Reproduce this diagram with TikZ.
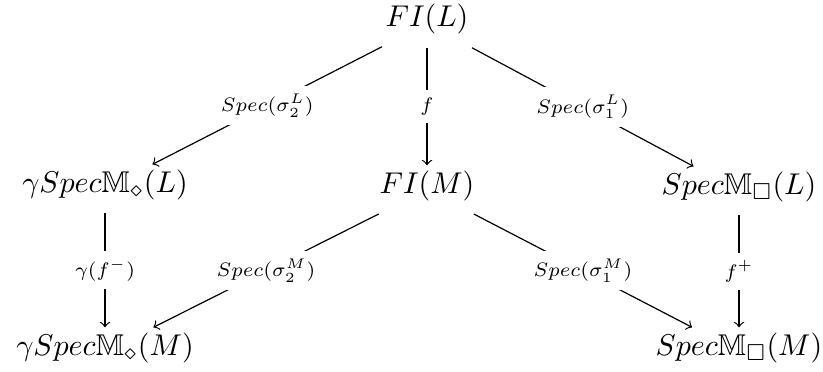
\documentclass[tikz,border=0pt]{standalone}
\usepackage{amssymb}
\begin{document}
\begin{tikzpicture}[x=0.333pt,y=-0.333pt,
  obj/.style={anchor=base, inner xsep=1pt, inner ysep=0.5pt, text height=8.5pt, text depth=6.3pt},
  arr/.style={->},
  lbl/.style={fill=white, inner xsep=1.8pt, inner ysep=2.8pt, scale=0.93}]
\useasboundingbox (0,0) rectangle (823,372);
\node[obj] (FIL) at (427,27) {$FI(L)$};
\node[obj] (GL)  at (105,192) {$\gamma Spec\mathbb{M}_{\diamond}(L)$};
\node[obj] (FIM) at (427,193) {$FI(M)$};
\node[obj] (SL)  at (739,194) {$Spec\mathbb{M}_{\square}(L)$};
\node[obj] (GM)  at (105,355) {$\gamma Spec\mathbb{M}_{\diamond}(M)$};
\node[obj] (SM)  at (739,355) {$Spec\mathbb{M}_{\square}(M)$};
\draw[arr] (FIL) -- node[lbl,midway] {$\scriptstyle Spec(\sigma_2^L)$} (GL);
\draw[arr] (FIL) -- node[lbl,midway] {$\scriptstyle f$} (FIM);
\draw[arr] (FIL) -- node[lbl,midway] {$\scriptstyle Spec(\sigma_1^L)$} (SL);
\draw[arr] (GL) -- node[lbl,midway] {$\scriptstyle \gamma(f^-)$} (GM);
\draw[arr] (FIM) -- node[lbl,midway] {$\scriptstyle Spec(\sigma_2^M)$} (GM);
\draw[arr] (FIM) -- node[lbl,midway] {$\scriptstyle Spec(\sigma_1^M)$} (SM);
\draw[arr] (SL) -- node[lbl,midway] {$\scriptstyle f^+$} (SM);
\end{tikzpicture}
\end{document}
